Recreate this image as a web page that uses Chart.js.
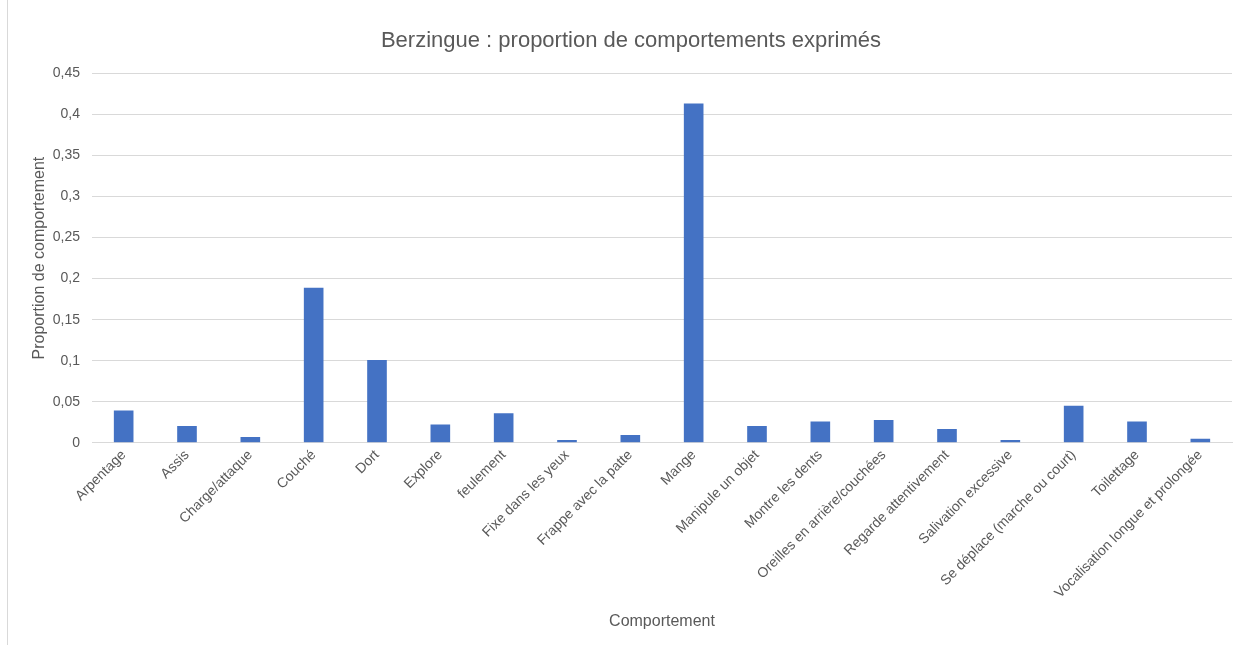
<!DOCTYPE html>
<html>
<head>
<meta charset="utf-8">
<script src="https://cdn.jsdelivr.net/npm/chart.js@4"></script>
<style>
  html, body { margin: 0; padding: 0; background: #fff; }
  #wrap { position: absolute; left: 0; top: 0; width: 1240px; height: 645px; }
  #edge { position: absolute; left: 7px; top: 0; width: 1px; height: 645px; background: #d9d9d9; }
</style>
</head>
<body>
<div id="wrap"><canvas id="chart" width="1240" height="645"></canvas></div>
<div id="edge"></div>
<script>
// categories (behaviours)
const comportements = [
    'Arpentage', 'Assis', 'Charge/attaque', 'Couché', 'Dort', 'Explore',
    'feulement', 'Fixe dans les yeux', 'Frappe avec la patte', 'Mange',
    'Manipule un objet', 'Montre les dents', 'Oreilles en arrière/couchées',
    'Regarde attentivement', 'Salivation excessive', 'Se déplace (marche ou court)',
    'Toilettage', 'Vocalisation longue et prolongée'
];

// proportions
const proportions = [
    0.0395, 0.0204, 0.007, 0.189, 0.1008, 0.0224,
    0.036, 0.0033, 0.0094, 0.4133,
    0.0204, 0.026, 0.0278,
    0.0167, 0.0033, 0.0453,
    0.026, 0.0049
];

const yMin = 0;
const yMax = 0.45;
const yStep = 0.05;

const grey = '#595959';
const fontFam = 'Liberation Sans, Arial, sans-serif';
const ctx = document.getElementById('chart').getContext('2d');

new Chart(ctx, {
    type: 'bar',
    data: {
        labels: comportements,
        datasets: [{
            label: 'Proportion',
            data: proportions,
            backgroundColor: '#4472c4',
            barPercentage: 0.31,
            categoryPercentage: 1.0
        }]
    },
    options: {
        responsive: false,
        animation: false,
        layout: { padding: { top: 28, right: 8, bottom: 14, left: 30 } },
        plugins: {
            legend: { display: false },
            tooltip: { enabled: false },
            title: {
                display: true,
                text: 'Berzingue : proportion de comportements exprimés',
                color: grey,
                font: { family: fontFam, size: 22, weight: 'normal' },
                padding: { top: 0, bottom: 19 }
            }
        },
        scales: {
            x: {
                grid: { display: false, drawTicks: false },
                border: { display: true, color: '#d9d9d9' },
                ticks: {
                    color: grey,
                    font: { family: fontFam, size: 14 },
                    maxRotation: 45,
                    minRotation: 45,
                    autoSkip: false,
                    padding: 4
                },
                title: {
                    display: true,
                    text: 'Comportement',
                    color: grey,
                    font: { family: fontFam, size: 16 },
                    padding: { top: 6, bottom: 0 }
                }
            },
            y: {
                min: yMin,
                max: yMax,
                afterFit: s => { s.width = 62; },
                grid: { color: '#d9d9d9', drawTicks: false },
                border: { display: false },
                ticks: {
                    stepSize: yStep,
                    color: grey,
                    font: { family: fontFam, size: 14 },
                    padding: 12,
                    callback: v => String(+v.toFixed(2)).replace('.', ',')
                },
                title: {
                    display: true,
                    text: 'Proportion de comportement',
                    color: grey,
                    font: { family: fontFam, size: 16 },
                    padding: { top: 0, bottom: 0 }
                }
            }
        }
    }
});
</script>
</body>
</html>
